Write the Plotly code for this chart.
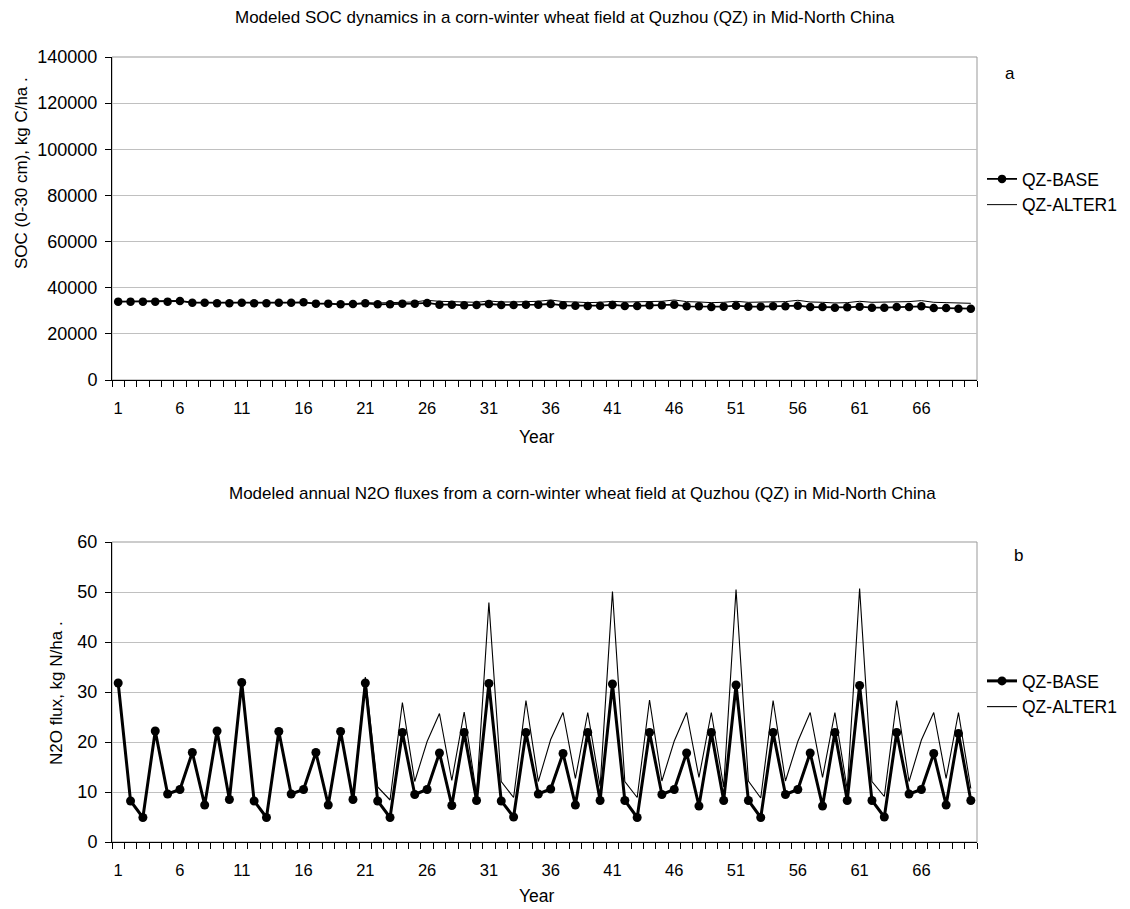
import plotly.graph_objects as go

years = list(range(1, 71))
tick_years = [1, 6, 11, 16, 21, 26, 31, 36, 41, 46, 51, 56, 61, 66]
tick_labels = [str(v) for v in tick_years]

soc_base = [33970, 33970, 33970, 33970, 33970, 34250, 33530, 33530, 33240, 33240,
            33530, 33240, 33240, 33530, 33530, 33680, 33100, 33100, 32810, 32950,
            33240, 32810, 32810, 33100, 33100, 33390, 32670, 32670, 32380, 32520,
            32950, 32520, 32520, 32670, 32670, 32950, 32380, 32230, 32090, 32230,
            32520, 32090, 32090, 32380, 32380, 32670, 31940, 31940, 31650, 31800,
            32230, 31800, 31800, 31940, 31940, 32230, 31650, 31650, 31360, 31510,
            31800, 31360, 31360, 31650, 31650, 31940, 31220, 31220, 30930, 30930]

soc_alter1 = [33970, 33970, 33970, 33970, 33970, 34250, 33530, 33530, 33240, 33240,
              33530, 33240, 33240, 33530, 33530, 33680, 33100, 33100, 32810, 32950,
              33530, 33390, 33390, 33680, 33820, 34540, 34110, 33970, 33530, 33680,
              34250, 33820, 33820, 33970, 34110, 34690, 33970, 33820, 33530, 33680,
              34110, 33820, 33820, 33970, 34110, 34690, 33970, 33820, 33530, 33680,
              34110, 33680, 33680, 33820, 33970, 34540, 33820, 33680, 33390, 33530,
              34110, 33680, 33680, 33820, 33970, 34400, 33680, 33530, 33240, 33240]

n2o_base = [31.8, 8.2, 4.9, 22.2, 9.6, 10.5, 17.9, 7.4, 22.2, 8.5,
            31.9, 8.2, 4.9, 22.1, 9.6, 10.5, 17.9, 7.4, 22.1, 8.5,
            31.8, 8.2, 4.9, 21.9, 9.5, 10.5, 17.8, 7.3, 21.9, 8.3,
            31.7, 8.2, 5.0, 21.9, 9.6, 10.6, 17.7, 7.4, 21.9, 8.3,
            31.6, 8.3, 4.9, 21.9, 9.5, 10.5, 17.8, 7.2, 21.9, 8.3,
            31.4, 8.3, 4.9, 21.9, 9.5, 10.5, 17.8, 7.2, 21.9, 8.3,
            31.3, 8.3, 5.0, 21.9, 9.6, 10.5, 17.7, 7.4, 21.7, 8.3]

n2o_alter1 = [31.8, 8.2, 4.9, 22.2, 9.6, 10.5, 17.9, 7.4, 22.2, 8.5,
              31.9, 8.2, 4.9, 22.1, 9.6, 10.5, 17.9, 7.4, 22.1, 8.5,
              33.0, 11.0, 8.4, 27.9, 12.1, 20.1, 25.7, 12.3, 26.0, 9.5,
              47.9, 12.1, 8.9, 28.3, 12.1, 20.5, 25.9, 12.7, 25.9, 11.1,
              50.1, 12.1, 8.9, 28.4, 12.2, 20.2, 25.9, 12.9, 25.9, 11.0,
              50.5, 12.2, 8.8, 28.3, 12.2, 20.1, 25.9, 12.9, 25.9, 10.5,
              50.7, 12.1, 9.1, 28.3, 12.1, 20.4, 25.9, 12.7, 25.9, 10.7]

FONT = "Liberation Sans, Arial, sans-serif"
W, H = 1130, 909
PX0, PX1 = 112, 977
TOP_Y0, TOP_Y1 = 57, 380
BOT_Y0, BOT_Y1 = 542, 842

def px(x):
    return x / W

def py(y):
    return 1 - y / H

fig = go.Figure()

fig.add_trace(go.Scatter(x=years, y=soc_alter1, mode="lines", name="QZ-ALTER1",
                         line=dict(color="black", width=1), xaxis="x", yaxis="y",
                         legend="legend", legendrank=2))
fig.add_trace(go.Scatter(x=years, y=soc_base, mode="lines+markers", name="QZ-BASE",
                         line=dict(color="black", width=1.8),
                         marker=dict(color="black", size=8.5), xaxis="x", yaxis="y",
                         legend="legend", legendrank=1))
fig.add_trace(go.Scatter(x=years, y=n2o_alter1, mode="lines", name="QZ-ALTER1",
                         line=dict(color="black", width=1.1), xaxis="x2", yaxis="y2",
                         legend="legend2", legendrank=2))
fig.add_trace(go.Scatter(x=years, y=n2o_base, mode="lines+markers", name="QZ-BASE",
                         line=dict(color="black", width=3),
                         marker=dict(color="black", size=9), xaxis="x2", yaxis="y2",
                         legend="legend2", legendrank=1))

xcommon = dict(
    range=[0.5, 70.5], tickmode="array", tickvals=tick_years, ticktext=tick_labels,
    ticks="", showgrid=False, zeroline=False, showline=True, linecolor="black",
    linewidth=1, tickfont=dict(family=FONT, size=16.5, color="black"),
    ticklabelstandoff=13, automargin=False,
    minor=dict(tickmode="linear", tick0=0.5, dtick=1, ticks="outside", ticklen=6,
               tickcolor="black", tickwidth=1, showgrid=False),
    fixedrange=True,
)
ycommon = dict(
    showgrid=True, gridcolor="#c0c0c0", gridwidth=1, zeroline=False,
    showline=True, linecolor="black", linewidth=1, ticks="outside", ticklen=6,
    tickcolor="black", tickfont=dict(family=FONT, size=18, color="black"),
    ticklabelstandoff=4, automargin=False, fixedrange=True,
)

fig.update_layout(
    width=W, height=H, autosize=False,
    margin=dict(l=0, r=0, t=0, b=0, pad=0, autoexpand=False),
    paper_bgcolor="white", plot_bgcolor="white",
    font=dict(family=FONT, color="black"),
    xaxis=dict(domain=[px(PX0), px(PX1)], anchor="y", **xcommon),
    yaxis=dict(domain=[py(TOP_Y1), py(TOP_Y0)], anchor="x", range=[0, 140000],
               dtick=20000, tickformat="d", **ycommon),
    xaxis2=dict(domain=[px(PX0), px(PX1)], anchor="y2", **xcommon),
    yaxis2=dict(domain=[py(BOT_Y1), py(BOT_Y0)], anchor="x2", range=[0, 60],
                dtick=10, **ycommon),
    legend=dict(x=px(982), y=py(161), xanchor="left", yanchor="top",
                font=dict(family=FONT, size=17.5, color="black"),
                bgcolor="rgba(0,0,0,0)", itemwidth=30, tracegroupgap=0),
    legend2=dict(x=px(982), y=py(663), xanchor="left", yanchor="top",
                 font=dict(family=FONT, size=17.5, color="black"),
                 bgcolor="rgba(0,0,0,0)", itemwidth=30, tracegroupgap=0),
    shapes=[
        dict(type="rect", xref="paper", yref="paper", x0=px(PX0), x1=px(PX1),
             y0=py(TOP_Y1), y1=py(TOP_Y0), line=dict(color="#999999", width=1), layer="below"),
        dict(type="rect", xref="paper", yref="paper", x0=px(PX0), x1=px(PX1),
             y0=py(BOT_Y1), y1=py(BOT_Y0), line=dict(color="#999999", width=1), layer="below"),
    ],
    annotations=[
        dict(text="Modeled SOC dynamics in a corn-winter wheat field at Quzhou (QZ) in Mid-North China",
             x=px(565), y=py(17), xref="paper", yref="paper", showarrow=False,
             xanchor="center", yanchor="middle", font=dict(family=FONT, size=17)),
        dict(text="Modeled annual N2O fluxes from a corn-winter wheat field at Quzhou (QZ) in Mid-North China",
             x=px(582), y=py(494), xref="paper", yref="paper", showarrow=False,
             xanchor="center", yanchor="middle", font=dict(family=FONT, size=17)),
        dict(text="SOC (0-30 cm), kg C/ha .", textangle=-90,
             x=px(21), y=py(173), xref="paper", yref="paper", showarrow=False,
             xanchor="center", yanchor="middle", font=dict(family=FONT, size=17)),
        dict(text="N2O flux, kg N/ha .", textangle=-90,
             x=px(56), y=py(693), xref="paper", yref="paper", showarrow=False,
             xanchor="center", yanchor="middle", font=dict(family=FONT, size=17)),
        dict(text="Year", x=px(537), y=py(437), xref="paper", yref="paper",
             showarrow=False, xanchor="center", yanchor="middle",
             font=dict(family=FONT, size=17.5)),
        dict(text="Year", x=px(537), y=py(896), xref="paper", yref="paper",
             showarrow=False, xanchor="center", yanchor="middle",
             font=dict(family=FONT, size=17.5)),
        dict(text="a", x=px(1010), y=py(73), xref="paper", yref="paper",
             showarrow=False, xanchor="center", yanchor="middle",
             font=dict(family=FONT, size=17)),
        dict(text="b", x=px(1018), y=py(555), xref="paper", yref="paper",
             showarrow=False, xanchor="center", yanchor="middle",
             font=dict(family=FONT, size=17)),
    ],
)

POST = """
var st = document.createElement('style');
st.textContent = 'html,body{margin:0 !important;padding:0 !important;overflow:hidden !important;}';
document.head.appendChild(st);
"""

fig.write_html("out.html", config={"displayModeBar": False}, post_script=POST)
